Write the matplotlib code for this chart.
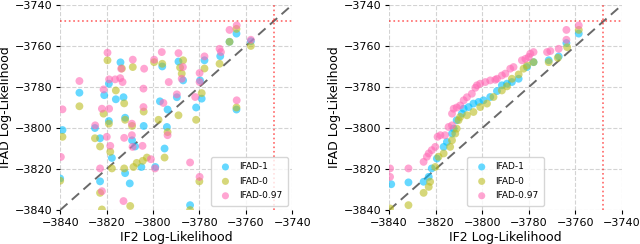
import numpy as np
import matplotlib.pyplot as plt

# ---- left panel: IFAD vs IF2 log-likelihood (unsorted runs) ----
left_x_ifad1 = [-3839, -3840, -3831.7, -3825, -3821, -3822.8, -3822.8, -3819, -3819, -3817.7,
                -3816, -3814, -3812.7, -3812, -3812, -3810, -3809, -3807.7, -3804, -3805,
                -3799, -3796, -3797, -3795, -3794, -3793.7, -3789.7, -3789, -3787, -3784,
                -3781.4, -3779.7, -3779, -3777.8, -3771, -3764, -3764, -3757.8, -3767]
left_y_ifad1 = [-3801, -3824.6, -3782.8, -3800, -3784, -3805, -3826, -3778.4, -3796.6, -3814.6,
                -3786, -3768, -3785, -3795, -3822, -3827, -3806, -3809, -3799, -3819,
                -3819, -3770, -3787, -3810, -3799.5, -3791, -3785, -3767.6, -3776.8, -3837.6,
                -3790, -3776.8, -3785.7, -3767, -3765, -3754, -3791, -3757.7, -3758]

left_x_ifad0 = [-3839, -3840, -3831.7, -3825, -3821.3, -3822.8, -3822.8, -3822, -3819.6, -3819,
                -3818.4, -3817.7, -3816, -3813.4, -3812.4, -3812, -3812.4, -3809.8, -3808.7, -3809,
                -3808.4, -3807, -3804, -3804.4, -3802.6, -3799.5, -3797.6, -3795, -3796, -3793.7,
                -3789, -3788.3, -3787, -3787.6, -3781.4, -3779, -3780, -3784, -3777.8, -3771.3,
                -3767, -3764, -3764, -3757.8]
left_y_ifad0 = [-3804.3, -3825.7, -3789.4, -3805, -3793, -3809, -3831.6, -3839.7, -3767, -3797.9,
                -3811.6, -3819.7, -3781.7, -3771, -3788, -3796, -3819.7, -3838, -3770.3, -3799,
                -3819, -3817, -3792, -3816, -3814.4, -3767.9, -3796, -3814.4, -3768.7, -3802,
                -3793.8, -3770.5, -3767, -3773.5, -3796, -3783, -3826, -3840, -3771, -3768.7,
                -3758, -3751.7, -3790, -3760]

left_x_ifad097 = [-3839, -3831.7, -3839.7, -3824.9, -3821.3, -3822, -3822.8, -3822, -3819.6, -3818.9,
                  -3818.9, -3819.9, -3818.4, -3816.3, -3814.1, -3813.7, -3813.1, -3812.4, -3812.7, -3809.1,
                  -3809.1, -3808.7, -3808.8, -3804.1, -3804.1, -3804.5, -3803.8, -3800.9, -3799.5, -3799.1,
                  -3796.2, -3795.5, -3793.2, -3793.7, -3789.7, -3789, -3787.6, -3787.1, -3784, -3781.8,
                  -3779.9, -3779.9, -3779.9, -3777.8, -3771.3, -3770.7, -3767, -3763.9, -3763.9, -3757.8]
left_y_ifad097 = [-3790.9, -3777.1, -3814.1, -3798.7, -3781.2, -3790.6, -3819.7, -3830.8, -3763.3, -3776.3,
                  -3790.6, -3804.3, -3808.7, -3776.3, -3775.7, -3771.1, -3777.6, -3804.8, -3835.6, -3797.9,
                  -3803.5, -3766.7, -3809.2, -3780.8, -3789.8, -3808.7, -3771.1, -3815.2, -3766.7, -3819.7,
                  -3763, -3787.8, -3777.6, -3803.5, -3783.6, -3763.5, -3776, -3770.3, -3816.8, -3784.9,
                  -3773.2, -3777.6, -3823.8, -3765.1, -3761.4, -3763, -3752.2, -3750, -3786.5, -3757]

# ---- right panel: IFAD vs IF2 log-likelihood (sorted runs) ----
right_x_ifad1 = [-3839.1, -3831.7, -3825.2, -3823, -3821.7, -3819.5, -3816.6, -3815.2, -3813, -3812.3,
                 -3811, -3808.8, -3808, -3805.9, -3803.8, -3801.6, -3799.5, -3796.6, -3793.7, -3791.6,
                 -3789.4, -3787.3, -3784.4, -3780.8, -3778, -3771.5, -3767.2, -3763.9, -3758.6]
right_y_ifad1 = [-3827.4, -3826.5, -3826.2, -3823.8, -3819.7, -3814.9, -3809.2, -3806.8, -3802.7, -3800.3,
                 -3796.2, -3793, -3790.6, -3789.8, -3788.1, -3787.3, -3786.5, -3784.9, -3782, -3779.2,
                 -3778.4, -3777.6, -3776, -3770.3, -3767.9, -3767, -3765.1, -3758.6, -3754]

right_x_ifad0 = [-3839.6, -3831.7, -3825.2, -3823, -3822.4, -3820.2, -3818.8, -3816.6, -3813.8, -3813,
                 -3811.6, -3811, -3810.2, -3809.5, -3806.6, -3803.8, -3800.9, -3798, -3795.2, -3791.6,
                 -3789.4, -3787.3, -3784.4, -3782.3, -3780.8, -3778, -3771.5, -3767.6, -3763.6, -3758.6]
right_y_ifad0 = [-3839.2, -3837.6, -3831.6, -3828.7, -3826.2, -3819, -3814, -3812.4, -3809.2, -3806,
                 -3802.7, -3800.3, -3796.2, -3794.6, -3793.8, -3792.2, -3789.8, -3788.1, -3784.9, -3781.7,
                 -3779.7, -3776, -3773.9, -3771.1, -3769.5, -3767.9, -3767.9, -3765.8, -3760.6, -3752.2]

right_x_ifad097 = [-3839.6, -3839.6, -3831.7, -3825.2, -3823.8, -3823, -3821.7, -3820.2, -3819.2, -3818,
                   -3816, -3814.5, -3813, -3813, -3812.3, -3811, -3809.5, -3808, -3806.6, -3804.5,
                   -3803, -3802.3, -3800.9, -3798.7, -3796.6, -3794.4, -3793.7, -3791.6, -3790.1, -3788,
                   -3786.6, -3783, -3781.5, -3780.1, -3779.4, -3778, -3772.2, -3770.8, -3767.2, -3763.9,
                   -3763.9, -3758.6]
right_y_ifad097 = [-3819.7, -3823.8, -3819.7, -3816.5, -3814, -3812.4, -3810.8, -3809.2, -3804.3, -3803.5,
                   -3803.5, -3799.5, -3798.7, -3793, -3790.6, -3790, -3789, -3786.5, -3785, -3783.3,
                   -3780.4, -3779.2, -3778.4, -3777.6, -3776.8, -3776.5, -3776, -3774.4, -3773.5, -3771.1,
                   -3770.3, -3767, -3766.3, -3765.4, -3763.8, -3763, -3763, -3762.5, -3761.4, -3757,
                   -3752.2, -3750]

best_ll = -3748
ticks = [-3840, -3820, -3800, -3780, -3760, -3740]
labels = ["IFAD-1", "IFAD-0", "IFAD-0.97"]
colors = ["deepskyblue", "tab:olive", "hotpink"]


def draw_panel(ax, series, legend_loc):
    """Scatter the three IFAD variants against IF2 with reference lines."""
    ax.plot([-3840, -3740], [-3840, -3740], "--", color="dimgray", lw=1.4, dashes=(5, 3), zorder=1)
    ax.axhline(best_ll, color="red", ls=":", lw=1.2, alpha=0.6, zorder=1)
    ax.axvline(best_ll, color="red", ls=":", lw=1.2, alpha=0.6, zorder=1)
    for (xs, ys), lab, col in zip(series, labels, colors):
        ax.scatter(xs, ys, s=32, color=col, alpha=0.6, edgecolors="none", label=lab, zorder=2)
    ax.set_xlim(-3840, -3740)
    ax.set_ylim(-3840, -3740)
    ax.set_xticks(ticks)
    ax.set_yticks(ticks)
    ax.tick_params(labelsize=8, length=3, pad=2.5)
    ax.grid(True, ls="--", color="lightgray", lw=0.8)
    ax.set_axisbelow(True)
    for sp in ax.spines.values():
        sp.set_visible(False)
    ax.set_xlabel("IF2 Log-Likelihood", fontsize=9, labelpad=2)
    ax.set_ylabel("IFAD Log-Likelihood", fontsize=9, labelpad=2)
    ax.legend(loc=legend_loc, fontsize=6.5, handletextpad=0.5, borderpad=0.6,
              labelspacing=0.6, markerscale=0.9)


fig = plt.figure(figsize=(6.4, 2.44), dpi=100)
ax1 = fig.add_axes([0.094, 0.139, 0.3625, 0.841])
ax2 = fig.add_axes([0.608, 0.139, 0.364, 0.841])

draw_panel(ax1, [(left_x_ifad1, left_y_ifad1), (left_x_ifad0, left_y_ifad0),
                 (left_x_ifad097, left_y_ifad097)], "lower right")
draw_panel(ax2, [(right_x_ifad1, right_y_ifad1), (right_x_ifad0, right_y_ifad0),
                 (right_x_ifad097, right_y_ifad097)], "lower center")

fig.savefig("out.png", dpi=100)
